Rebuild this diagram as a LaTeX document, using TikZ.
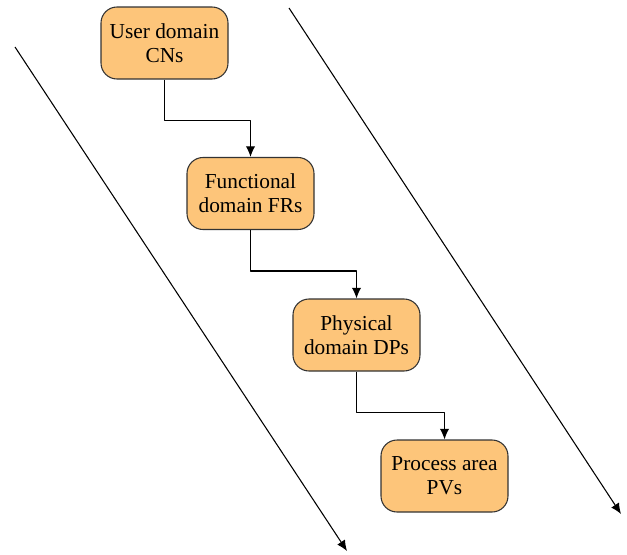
\documentclass[tikz,border=0pt]{standalone}
\usepackage{fontspec}
\setmainfont{Liberation Serif}
\usetikzlibrary{arrows.meta}
\definecolor{boxfill}{RGB}{253,197,122}
\tikzset{domainbox/.style={draw=black!80,fill=boxfill,rounded corners=12,line width=0.8pt,
		minimum width=127*0.75pt,minimum height=72*0.75pt,align=center,
		font=\fontsize{16}{18}\selectfont}}
\begin{document}
\begin{tikzpicture}[x=0.75pt,y=-0.75pt,>={Latex[length=8pt,width=7pt]},line join=round]
	\useasboundingbox (0,0) rectangle (627,554);
	\path (15,47) coordinate (L1) (347,551) coordinate (L2)
	(289,8) coordinate (R1) (621,514) coordinate (R2);
	\node[domainbox] (U) at (164.5,43) {User domain\\CNs};
	\node[domainbox] (F) at (250.5,193.5) {Functional\\domain FRs};
	\node[domainbox] (P) at (356.5,335) {Physical\\domain DPs};
	\node[domainbox] (V) at (444.5,476) {Process area\\PVs};
	\foreach \a/\b in {U/F,F/P,P/V}
	{\draw[->,line width=0.9pt] (\a.south) -- ++(0,41) -| (\b.north);}
	\draw[->,line width=0.8pt] (L1)--(L2); % diagonal arrows
	\draw[->,line width=0.8pt] (R1)--(R2);
\end{tikzpicture}
\end{document}
